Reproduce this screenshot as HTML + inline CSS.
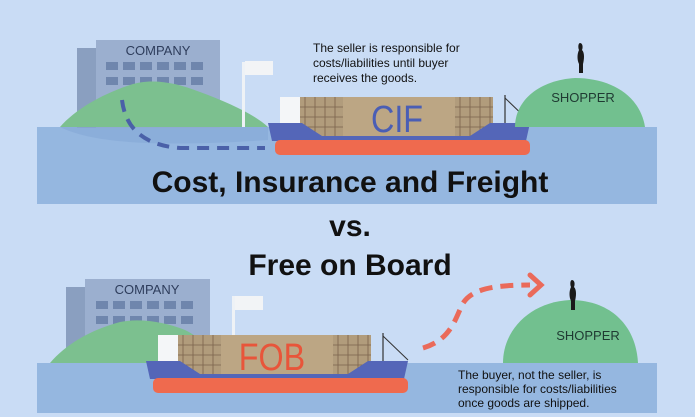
<!DOCTYPE html>
<html><head><meta charset="utf-8"><style>
html,body{margin:0;padding:0;background:#c9dcf5;}
svg{display:block}
text{font-family:"Liberation Sans",sans-serif;}
</style></head><body>
<svg width="695" height="417" viewBox="0 0 695 417" xmlns="http://www.w3.org/2000/svg">
<defs>
<g id="ship">
  <rect x="280" y="97" width="20" height="28" fill="#f4f6f8"/>
  <rect x="300" y="97" width="193" height="40" fill="#b19c7c"/>
  <rect x="343" y="97" width="112" height="40" fill="#bca684"/>
  <g stroke="#6d5440" stroke-width="0.8" opacity="0.8">
    <line x1="305" y1="97" x2="305" y2="137"/><line x1="315" y1="97" x2="315" y2="137"/><line x1="325" y1="97" x2="325" y2="137"/><line x1="335" y1="97" x2="335" y2="137"/>
    <line x1="300" y1="107" x2="343" y2="107"/><line x1="300" y1="117" x2="343" y2="117"/><line x1="300" y1="127" x2="343" y2="127"/>
    <line x1="460" y1="97" x2="460" y2="137"/><line x1="470" y1="97" x2="470" y2="137"/><line x1="480" y1="97" x2="480" y2="137"/><line x1="490" y1="97" x2="490" y2="137"/>
    <line x1="455" y1="107" x2="493" y2="107"/><line x1="455" y1="117" x2="493" y2="117"/><line x1="455" y1="127" x2="493" y2="127"/>
  </g>
  <line x1="505" y1="95" x2="505" y2="123" stroke="#333" stroke-width="1.2"/>
  <line x1="505" y1="98" x2="530" y2="122" stroke="#333" stroke-width="1"/>
  <polygon points="268,123 302,123 322,136 470,136 490,123 530,123 526,141 272,141" fill="#5466b8"/>
  <rect x="275" y="140" width="255" height="15" rx="5" fill="#ef6a4e"/>
</g>
</defs>
<!-- TOP SCENE -->
<rect x="37" y="127" width="620" height="77" fill="#95b7e0"/>
<rect x="77" y="48" width="20" height="80" fill="#8a9fc0"/>
<rect x="96" y="40" width="124" height="88" fill="#9bafcf"/>
<text x="158" y="55" font-size="13" text-anchor="middle" fill="#2e3d5c">COMPANY</text>
<g fill="#6f86ad">
  <rect x="106" y="62" width="12" height="8"/><rect x="123" y="62" width="12" height="8"/><rect x="140" y="62" width="12" height="8"/><rect x="157" y="62" width="12" height="8"/><rect x="174" y="62" width="12" height="8"/><rect x="191" y="62" width="12" height="8"/>
  <rect x="106" y="77" width="12" height="8"/><rect x="123" y="77" width="12" height="8"/><rect x="140" y="77" width="12" height="8"/><rect x="157" y="77" width="12" height="8"/><rect x="174" y="77" width="12" height="8"/><rect x="191" y="77" width="12" height="8"/>
</g>
<path d="M60,127 C75,110 100,95 130,85 C150,78 175,82 200,92 C230,103 255,115 268,127 Z" fill="#7cc08f"/>
<path d="M60,127 C90,142 150,148 268,140 L268,127 Z" fill="#86a9d6" opacity="0.6"/>
<rect x="242" y="62" width="3" height="65" fill="#eef2f6"/>
<rect x="245" y="61" width="28" height="14" fill="#f2f4f6"/>
<path d="M122,100 C125,125 140,145 180,148 L265,148" fill="none" stroke="#4a60a8" stroke-width="4" stroke-dasharray="12,8"/>
<use href="#ship"/>
<path d="M515,127 C515,100 540,80 575,78 C610,78 640,95 645,127 Z" fill="#72c08f"/>
<path d="M580,43 c3,0 3,5 2,7 c3,3 2,10 1,14 l0,9 l-4,0 l0,-9 c-2,-4 -2,-10 0,-14 c-1,-2 -1,-7 1,-7z" fill="#1a1a1a"/>
<text x="583" y="102" font-size="13" text-anchor="middle" fill="#1f3a32">SHOPPER</text>
<text font-size="12" fill="#111"><tspan x="313" y="52">The seller is responsible for</tspan><tspan x="313" y="67">costs/liabilities until buyer</tspan><tspan x="313" y="82">receives the goods.</tspan></text>
<text x="350" y="192" font-size="30" font-weight="bold" text-anchor="middle" fill="#111">Cost, Insurance and Freight</text>
<text x="350" y="236" font-size="30" font-weight="bold" text-anchor="middle" fill="#111">vs.</text>
<text x="350" y="275" font-size="30" font-weight="bold" text-anchor="middle" fill="#111">Free on Board</text>
<text x="0" y="132" font-size="38" text-anchor="middle" fill="#4a5eb5" transform="translate(397,0) scale(0.85,1)">CIF</text>
<!-- BOTTOM SCENE -->
<rect x="37" y="363" width="620" height="50" fill="#95b7e0"/>
<rect x="66" y="287" width="20" height="76" fill="#8a9fc0"/>
<rect x="85" y="279" width="125" height="84" fill="#9bafcf"/>
<text x="147" y="294" font-size="13" text-anchor="middle" fill="#2e3d5c">COMPANY</text>
<g fill="#6f86ad">
  <rect x="96" y="301" width="12" height="8"/><rect x="113" y="301" width="12" height="8"/><rect x="130" y="301" width="12" height="8"/><rect x="147" y="301" width="12" height="8"/><rect x="164" y="301" width="12" height="8"/><rect x="181" y="301" width="12" height="8"/>
  <rect x="96" y="316" width="12" height="8"/><rect x="113" y="316" width="12" height="8"/><rect x="130" y="316" width="12" height="8"/><rect x="147" y="316" width="12" height="8"/><rect x="164" y="316" width="12" height="8"/><rect x="181" y="316" width="12" height="8"/>
</g>
<path d="M50,363 C65,345 90,330 120,322 C140,318 165,322 185,330 C200,337 210,350 215,363 Z" fill="#7cc08f"/>
<rect x="232" y="296" width="3" height="40" fill="#eef2f6"/>
<rect x="235" y="296" width="28" height="14" fill="#f2f4f6"/>
<use href="#ship" transform="translate(-122,238)"/>
<text x="0" y="370" font-size="38" text-anchor="middle" fill="#e8553a" transform="translate(272,0) scale(0.85,1)">FOB</text>
<path d="M423,348 C450,340 455,320 462,305 C470,290 490,285 530,285" fill="none" stroke="#ea6a5a" stroke-width="5" stroke-dasharray="13,8"/>
<path d="M530,275 L541,285 L530,295" fill="none" stroke="#ea6a5a" stroke-width="5" stroke-linecap="round"/>
<path d="M503,363 C503,330 530,302 570,300 C610,300 636,325 638,363 Z" fill="#72c08f"/>
<path d="M572,280 c3,0 3,5 2,7 c3,3 2,10 1,14 l0,9 l-4,0 l0,-9 c-2,-4 -2,-10 0,-14 c-1,-2 -1,-7 1,-7z" fill="#1a1a1a"/>
<text x="588" y="340" font-size="13" text-anchor="middle" fill="#1f3a32">SHOPPER</text>
<text font-size="12" fill="#111"><tspan x="458" y="379">The buyer, not the seller, is</tspan><tspan x="458" y="393">responsible for costs/liabilities</tspan><tspan x="458" y="407">once goods are shipped.</tspan></text>
</svg>
</body></html>
